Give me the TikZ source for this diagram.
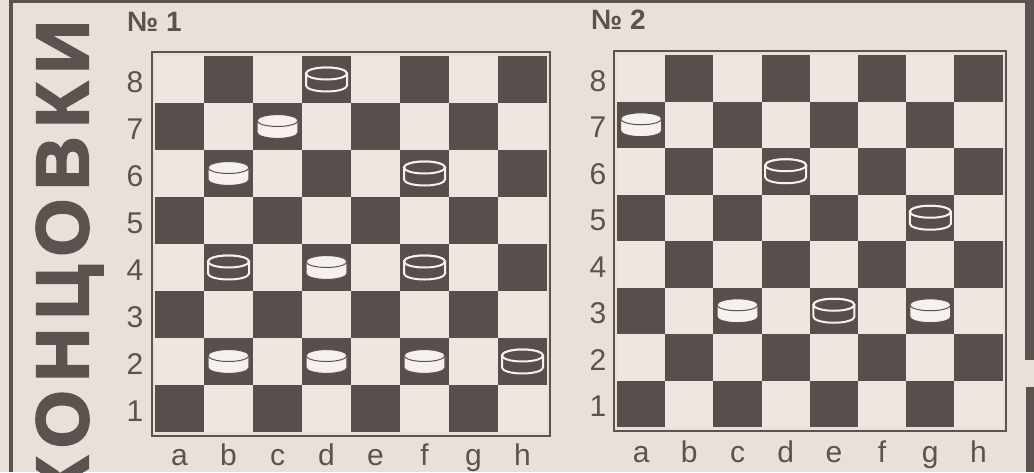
\documentclass[tikz,border=0pt]{standalone}
\usepackage{fontspec}
\setmainfont{Liberation Sans}
\newfontfamily\headfont{Liberation Sans}[BoldFeatures={FakeBold=3,LetterSpace=12}]
\definecolor{paper}{RGB}{233,224,217}
\definecolor{ink}{RGB}{92,83,81}
\definecolor{lightsq}{RGB}{238,231,225}
\definecolor{darksq}{RGB}{88,79,77}
\definecolor{disc}{RGB}{246,241,236}

\begin{document}
\begin{tikzpicture}[
        x=1pt, y=-1pt,
        rank/.style={font=\fontsize{30}{30}\selectfont, text=ink, anchor=base, inner sep=0pt},
        file/.style={font=\fontsize{30}{30}\selectfont, text=ink, anchor=base, inner sep=0pt},
        number/.style={font=\fontsize{28}{28}\selectfont\bfseries, text=ink, anchor=base west, inner sep=0pt},
        title/.style={font=\headfont\bfseries\fontsize{74}{74}\selectfont, text=ink, rotate=90,
                      anchor=base east, inner sep=0pt},
        frame/.style={draw=ink, line width=2pt},
        whitedisc/.style={fill=disc, draw=ink, line width=1.2pt},
        blackdisc/.style={fill=darksq, draw=disc, line width=2pt}
    ]
        \useasboundingbox[fill=paper] (0,0) rectangle (1034,472);

        % page rules
        \fill[ink] (9,0) rectangle (1025,2.5);
        \fill[ink] (9,0) rectangle (13,472);
        \fill[ink] (1025,0) rectangle (1034,360);
        \fill[ink] (1026,387) rectangle (1034,472);

        \node[title] (heading) at (88,20) {КОНЦОВКИ};

        % board 1
        \begin{scope}
            \def\bx{155}\def\by{56}\def\sw{49}\def\sh{47}
            \fill[lightsq] (\bx,\by) rectangle ++(8*\sw,8*\sh);
            \foreach \c in {0,...,7}
                \foreach \r in {0,...,7} {
                    \pgfmathtruncatemacro\odd{mod(\c+\r,2)}
                    \ifnum\odd=1
                        \fill[darksq] (\bx+\c*\sw,\by+\r*\sh) rectangle ++(\sw,\sh);
                    \fi
                }
            \draw[frame] (\bx-3,\by-4) rectangle (\bx+8*\sw+3,\by+8*\sh+4);
            \foreach \n [count=\r from 0] in {8,...,1}
                \node[rank] (rankA-\n) at (135,\by+\r*\sh+\sh/2+13) {\n};
            \foreach \f [count=\c from 0] in {a,...,h}
                \node[file] (fileA-\f) at (\bx+\c*\sw+\sw/2,465) {\f};
            \node[number] (numA) at (127,31) {№ 1};
            \foreach \c/\r in {2/1, 1/2, 3/4, 1/6, 3/6, 5/6} {
                \draw[whitedisc, shift={(\bx+\c*\sw+\sw/2,\by+\r*\sh+\sh/2)}]
                    (-20.5,-6) arc[start angle=180, end angle=360, x radius=20.5, y radius=6]
                    -- (20.5,6) arc[start angle=0, end angle=180, x radius=20.5, y radius=6] -- cycle;
                \draw[ink, line width=1pt, shift={(\bx+\c*\sw+\sw/2,\by+\r*\sh+\sh/2)}]
                    (20.5,-6) arc[start angle=0, end angle=180, x radius=20.5, y radius=6];
            }
            \foreach \c/\r in {3/0, 5/2, 1/4, 5/4, 7/6} {
                \draw[blackdisc, shift={(\bx+\c*\sw+\sw/2,\by+\r*\sh+\sh/2)}]
                    (-20.5,-6) arc[start angle=180, end angle=360, x radius=20.5, y radius=6]
                    -- (20.5,6) arc[start angle=0, end angle=180, x radius=20.5, y radius=6] -- cycle;
                \draw[blackdisc, shift={(\bx+\c*\sw+\sw/2,\by+\r*\sh+\sh/2)}]
                    (0,-6) ellipse[x radius=20.5, y radius=6];
            }
        \end{scope}

        % board 2
        \begin{scope}
            \def\bx{617}\def\by{55}\def\sw{48.2}\def\sh{46.5}
            \fill[lightsq] (\bx,\by) rectangle ++(8*\sw,8*\sh);
            \foreach \c in {0,...,7}
                \foreach \r in {0,...,7} {
                    \pgfmathtruncatemacro\odd{mod(\c+\r,2)}
                    \ifnum\odd=1
                        \fill[darksq] (\bx+\c*\sw,\by+\r*\sh) rectangle ++(\sw,\sh);
                    \fi
                }
            \draw[frame] (\bx-3,\by-4) rectangle (\bx+8*\sw+3,\by+8*\sh+4);
            \foreach \n [count=\r from 0] in {8,...,1}
                \node[rank] (rankB-\n) at (598,\by+\r*\sh+\sh/2+13) {\n};
            \foreach \f [count=\c from 0] in {a,...,h}
                \node[file] (fileB-\f) at (\bx+\c*\sw+\sw/2,462) {\f};
            \node[number] (numB) at (591,29) {№ 2};
            \foreach \c/\r in {0/1, 2/5, 6/5} {
                \draw[whitedisc, shift={(\bx+\c*\sw+\sw/2,\by+\r*\sh+\sh/2)}]
                    (-20.5,-6) arc[start angle=180, end angle=360, x radius=20.5, y radius=6]
                    -- (20.5,6) arc[start angle=0, end angle=180, x radius=20.5, y radius=6] -- cycle;
                \draw[ink, line width=1pt, shift={(\bx+\c*\sw+\sw/2,\by+\r*\sh+\sh/2)}]
                    (20.5,-6) arc[start angle=0, end angle=180, x radius=20.5, y radius=6];
            }
            \foreach \c/\r in {3/2, 6/3, 4/5} {
                \draw[blackdisc, shift={(\bx+\c*\sw+\sw/2,\by+\r*\sh+\sh/2)}]
                    (-20.5,-6) arc[start angle=180, end angle=360, x radius=20.5, y radius=6]
                    -- (20.5,6) arc[start angle=0, end angle=180, x radius=20.5, y radius=6] -- cycle;
                \draw[blackdisc, shift={(\bx+\c*\sw+\sw/2,\by+\r*\sh+\sh/2)}]
                    (0,-6) ellipse[x radius=20.5, y radius=6];
            }
        \end{scope}
    \end{tikzpicture}
\end{document}
